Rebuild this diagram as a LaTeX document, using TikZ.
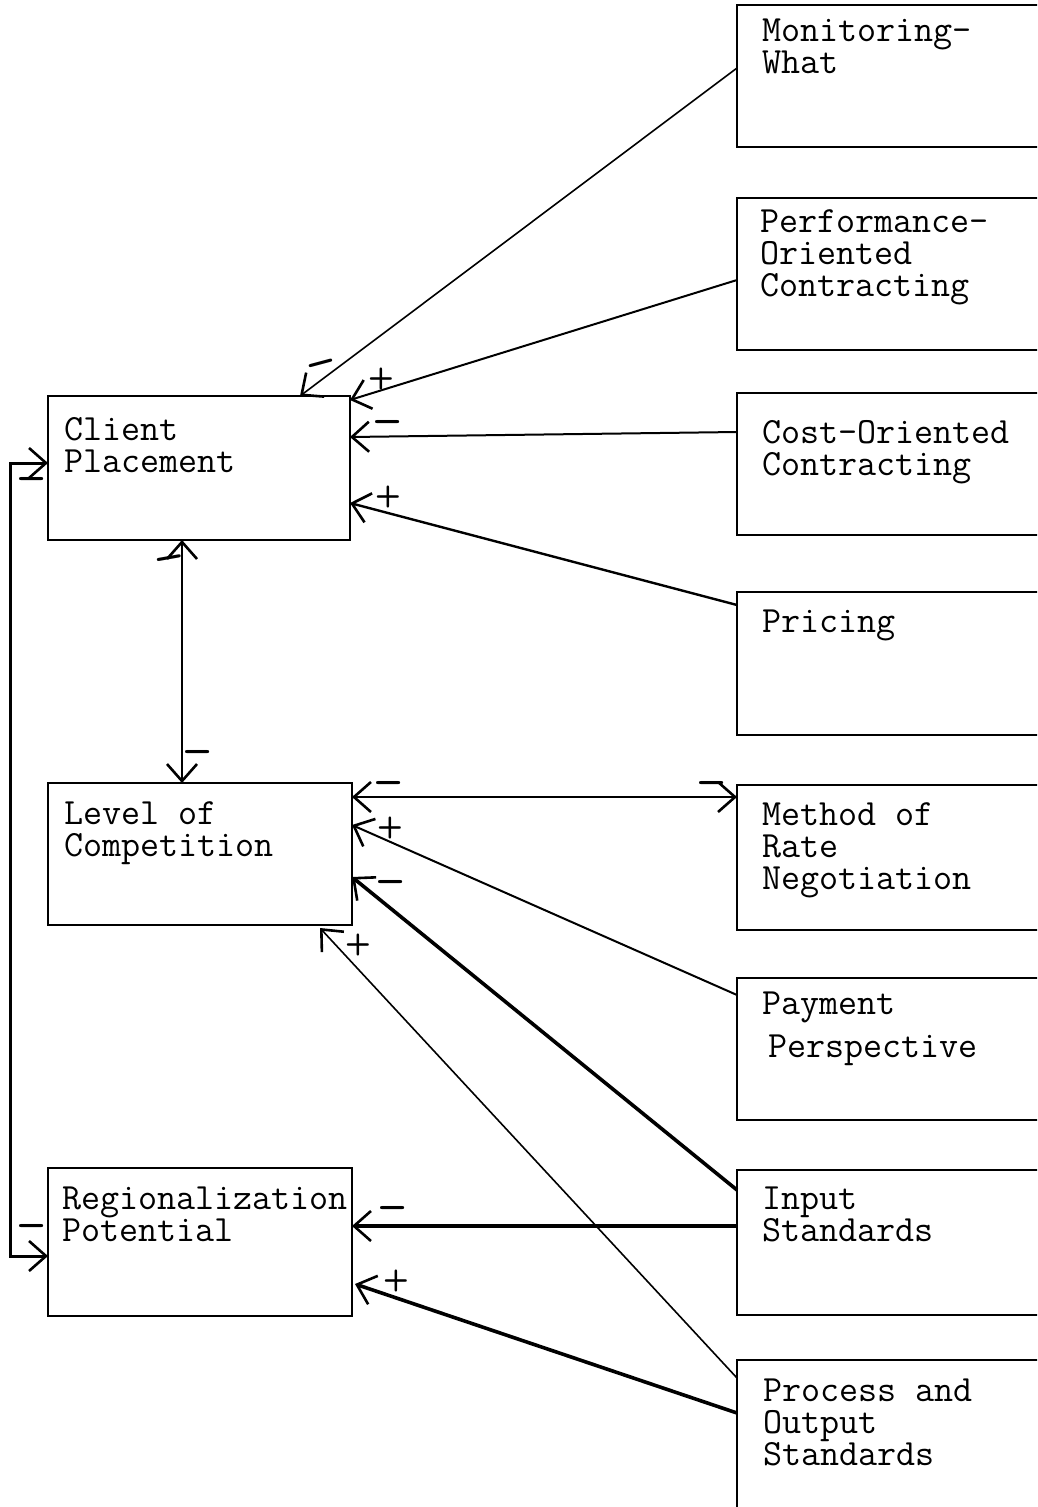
\documentclass[tikz,border=0pt]{standalone}
\usetikzlibrary{arrows.meta,calc}
\tikzset{
  box/.style={draw, rectangle, line width=2.4pt, inner sep=0pt, outer sep=0pt},
  txt/.style={font=\fontsize{37}{32}\selectfont\ttfamily, align=left, inner sep=0pt, anchor=north west},
  barb/.tip={Straight Barb[length=17pt,width=30pt,line width=2.6pt]},
  link/.style={line width=1.6pt, -barb},
  boldlink/.style={line width=3.6pt, -barb},
  twoway/.style={line width=2.4pt, barb-barb},
  plus/.style={font=\fontsize{30}{30}\selectfont\sffamily\bfseries, inner sep=0pt},
  minus/.style={font=\fontsize{44}{44}\selectfont\sffamily\bfseries, inner sep=0pt},
}
\begin{document}
\begin{tikzpicture}[x=1pt,y=-1pt]
\useasboundingbox (0,0) rectangle (1037,1507);
\clip (0,0) rectangle (1037,1507);

% left column
\node[box, minimum width=302pt, minimum height=144pt] (cp)  at (199,468) {};
\node[box, minimum width=304pt, minimum height=142pt] (loc) at (200,854) {};
\node[box, minimum width=304pt, minimum height=148pt] (rp)  at (200,1242) {};

\node[txt] (cpt)  at ($(cp.north west)+(16,21)$)  {Client\\Placement};
\node[txt] (loct) at ($(loc.north west)+(16,18)$) {Level of\\Competition};
\node[txt] (rpt)  at ($(rp.north west)+(14,19)$)  {Regionalization\\Potential};

% right column (boxes run off the right edge)
\node[box, minimum width=323pt, minimum height=142pt] (mw)  at (898.5,76) {};
\node[box, minimum width=323pt, minimum height=152pt] (poc) at (898.5,274) {};
\node[box, minimum width=323pt, minimum height=142pt] (coc) at (898.5,464) {};
\node[box, minimum width=323pt, minimum height=143pt] (pr)  at (898.5,663.5) {};
\node[box, minimum width=323pt, minimum height=145pt] (mrn) at (898.5,857.5) {};
\node[box, minimum width=323pt, minimum height=142pt] (pp)  at (898.5,1049) {};
\node[box, minimum width=323pt, minimum height=145pt] (is)  at (898.5,1242.5) {};
\node[box, minimum width=323pt, minimum height=170pt] (pos) at (898.5,1445) {};

\node[txt] (mwt)  at ($(mw.north west)+(25,14)$)  {Monitoring-\\What};
\node[txt] (poct) at ($(poc.north west)+(23,11)$) {Performance-\\Oriented\\Contracting};
\node[txt] (coct) at ($(coc.north west)+(25,27)$) {Cost-Oriented\\Contracting};
\node[txt] (prt)  at ($(pr.north west)+(25,18)$)  {Pricing};
\node[txt] (mrnt) at ($(mrn.north west)+(25,17)$) {Method of\\Rate\\Negotiation};
\node[txt] (ppt)  at ($(pp.north west)+(25,14)$)  {Payment\\[11pt]\hspace*{6pt}Perspective};
\node[txt] (ist)  at ($(is.north west)+(25,17)$)  {Input\\Standards};
\node[txt] (post) at ($(pos.north west)+(26,19)$) {Process and\\Output\\Standards};

% influences on client placement
\draw[link] ($(mw.north west)+(0,63)$) -- ($(cp.north west)+(252,0)$);
\draw[link, line width=2pt] ($(poc.north west)+(0,82)$) -- ($(cp.north east)+(0,4)$);
\draw[link, line width=2pt] ($(coc.north west)+(0,39)$) -- ($(cp.north east)+(0,41)$);
\draw[link, line width=2.4pt] ($(pr.north west)+(0,13)$) -- ($(cp.north east)+(0,107)$);

% client placement <-> level of competition
\draw[twoway, line width=2pt] ($(cp.south west)+(134,0)$) -- ($(loc.north west)+(134,0)$);

% influences on level of competition
\draw[twoway] ($(loc.north east)+(0,14)$) -- ($(mrn.north west)+(0,12)$);
\draw[link, line width=2pt] ($(pp.north west)+(0,17)$) -- ($(loc.north east)+(0,42)$);
\draw[boldlink] ($(is.north west)+(0,20)$) -- ($(loc.north east)+(0,94)$);
\draw[link] ($(pos.north west)+(0,18)$) -- ($(loc.south east)+(-32,3)$);

% influences on regionalization potential
\draw[boldlink] ($(is.north west)+(0,56)$) -- ($(rp.north east)+(0,58)$);
\draw[boldlink] ($(pos.north west)+(0,53)$) -- ($(rp.north east)+(3,116)$);

% feedback loop on the left
\draw[line width=3pt, barb-barb] ($(cp.north west)+(0,67)$) -- ++(-38,0) |- ($(rp.north west)+(0,88)$);

% signs
\node[minus, rotate=15] (s1)  at (322,369) {–};
\node[plus]  (s2)  at (381,379) {+};
\node[minus] (s3)  at (388,427) {–};
\node[plus]  (s4)  at (388,497) {+};
\node[minus, rotate=10] (s5)  at (170,563) {–};
\node[minus] (s6)  at (198,757) {–};
\node[minus] (s7)  at (389,788) {–};
\node[minus] (s8)  at (712,788) {–};
\node[plus]  (s9)  at (390,828) {+};
\node[minus] (s10) at (391,887) {–};
\node[plus]  (s11) at (358,945) {+};
\node[minus] (s12) at (393,1213) {–};
\node[plus]  (s13) at (396,1281) {+};
\node[minus] (s14) at (32,484) {–};
\node[minus] (s15) at (32,1231) {–};
\end{tikzpicture}
\end{document}
